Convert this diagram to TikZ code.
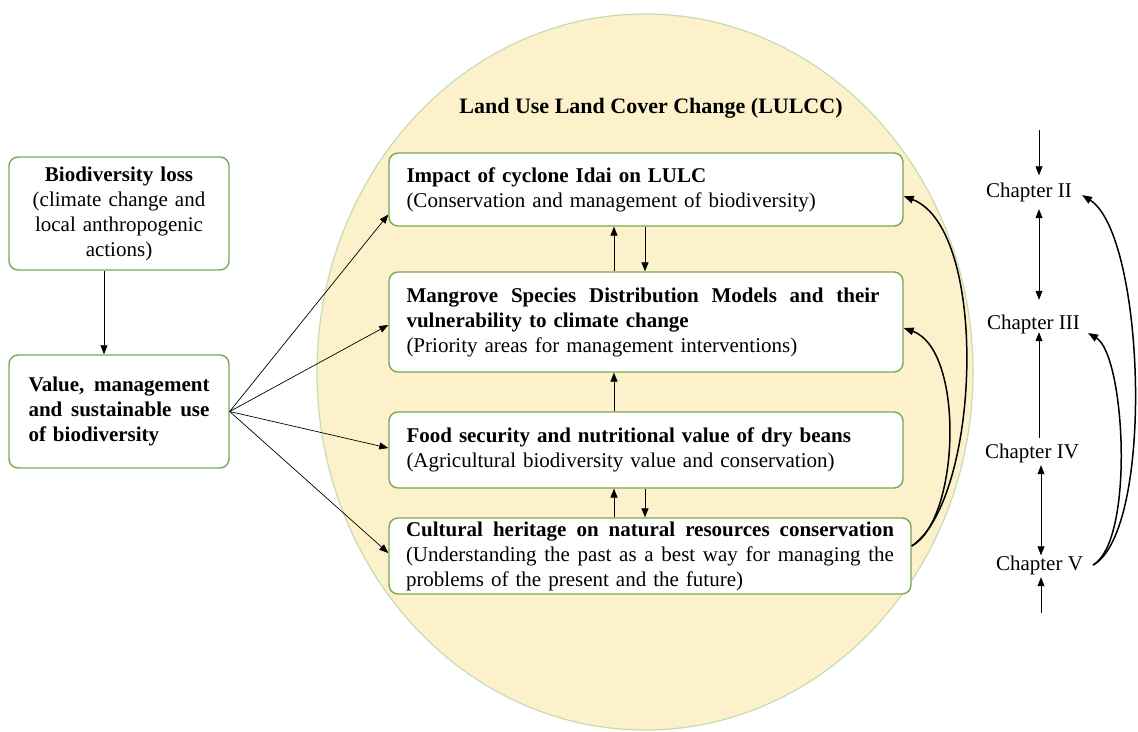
\documentclass[tikz,border=0pt]{standalone}
\usepackage{fontspec}
\setmainfont{Liberation Serif}
\usetikzlibrary{arrows.meta,calc}
\setlength{\parindent}{0pt}

\definecolor{boxgreen}{RGB}{122,168,84}
\definecolor{cream}{RGB}{252,241,203}
\definecolor{rimgreen}{RGB}{198,221,176}

% a line whose word spaces are stretched to a given width
\newcommand{\fullline}[2]{\hbox to #1{\spaceskip=0pt\xspaceskip=0pt #2}\par}

\tikzset{
  txt/.style={font=\fontsize{21}{25}\selectfont},
  card/.style={txt, draw=boxgreen, line width=1.4pt, fill=white,
    rounded corners=9pt, inner xsep=17.5pt, inner ysep=2pt, align=left},
  arr/.style={-{Triangle[length=9pt,width=7pt]}, line width=0.7pt},
  dbl/.style={{Triangle[length=9pt,width=7pt]}-{Triangle[length=9pt,width=7pt]}, line width=0.7pt},
  curvearr/.style={-{Triangle[length=10pt,width=7.5pt]}, line width=1.5pt},
  chap/.style={txt, inner sep=0pt},
}

\begin{document}
\begin{tikzpicture}[x=1pt,y=-1pt]
  \useasboundingbox (0,0) rectangle (1138,731);
  \fill[white] (0,0) rectangle (1138,731);

  % the LULCC field
  \draw[rimgreen, fill=cream, line width=1.2pt] (645,372) ellipse [x radius=328, y radius=358];
  \fill[white] (862,60) rectangle (885,88);
  \node[txt, font=\bfseries\fontsize{22}{25}\selectfont] (title) at (651,108)
    {Land Use Land Cover Change (LULCC)};

  % left column
  \node[card, align=center, text width=186pt, inner xsep=17pt, minimum height=113pt] (b1) at (119,213.5)
    {\textbf{Biodiversity loss}\\(climate change and\\local anthropogenic\\actions)};
  \node[card, text width=181pt, inner xsep=19.5pt, minimum height=113pt] (b2) at (119,411.5)
    {\bfseries\fullline{181pt}{Value, management}\fullline{181pt}{and sustainable use}of biodiversity};

  % study boxes
  \node[card, text width=479pt, minimum height=73pt] (c1) at (646,189.5)
    {\textbf{Impact of cyclone Idai on LULC}\\(Conservation and management of biodiversity)};
  \node[card, text width=479pt, minimum height=100pt] (c2) at (646,322)
    {\bfseries\fullline{473pt}{Mangrove Species Distribution Models and their}%
     vulnerability to climate change\\
     \mdseries(Priority areas for management interventions)};
  \node[card, text width=479pt, minimum height=76pt] (c3) at (646,450)
    {\textbf{Food security and nutritional value of dry beans}\\(Agricultural biodiversity value and conservation)};
  \node[card, text width=488pt, inner xsep=17pt, minimum height=76pt] (c4) at (650,556)
    {\fullline{488pt}{\bfseries Cultural heritage on natural resources conservation}%
     \fullline{488pt}{(Understanding the past as a best way for managing the}%
     problems of the present and the future)};

  % chapters
  \node[chap] (ch2) at (1029,192) {Chapter II};
  \node[chap] (ch3) at (1033.5,324) {Chapter III};
  \node[chap] (ch4) at (1032,453) {Chapter IV};
  \node[chap] (ch5) at (1039.5,565) {Chapter V};

  % left connectors
  \draw[arr] ($(b1.south)+(-15,0)$) -- ($(b2.north)+(-15,0)$);
  \draw[arr] (b2.east) -- ($(c1.west)+(0,25)$);
  \draw[arr] (b2.east) -- ($(c2.west)+(0,3)$);
  \draw[arr] (b2.east) -- ($(c3.west)+(0,-2)$);
  \draw[arr] (b2.east) -- ($(c4.west)+(0,-3)$);

  % links between study boxes
  \coordinate (up) at (614,0);
  \coordinate (dn) at (645,0);
  \draw[arr] (up |- c2.north) -- (up |- c1.south);
  \draw[arr] (dn |- c1.south) -- (dn |- c2.north);
  \draw[arr] (up |- c3.north) -- (up |- c2.south);
  \draw[arr] (up |- c4.north) -- (up |- c3.south);
  \draw[arr] (dn |- c3.south) -- (dn |- c4.north);
  \draw[curvearr] ($(c4.east)+(0,-10)$) .. controls (980,500) and (990,230) .. ($(c1.east)+(0,6.5)$);
  \draw[curvearr] ($(c4.east)+(0,-10)$) .. controls (960,520) and (965,350) .. ($(c2.east)+(0,6)$);

  % chapter sequence
  \coordinate (colA) at (1039,0);
  \coordinate (colB) at (1041,0);
  \coordinate (chin) at (1039,130);
  \coordinate (chout) at (1041,613);
  \draw[arr, shorten >=7pt] (chin) -- (colA |- ch2.north);
  \draw[dbl, shorten <=7.5pt, shorten >=14.5pt] (colA |- ch2.south) -- (colA |- ch3.north);
  \draw[arr, shorten <=5.5pt, shorten >=-1.5pt] (colA |- ch4.north) -- (colA |- ch3.south);
  \draw[dbl, shorten <=2.5pt] (colB |- ch4.south) -- (colB |- ch5.north);
  \draw[arr, shorten >=2.5pt] (chout) -- (colB |- ch5.south);
  \draw[curvearr] ($(ch5.east)+(10,0)$) .. controls (1155,530) and (1145,235) .. ($(ch2.east)+(10,3)$);
  \draw[curvearr] ($(ch5.east)+(10,0)$) .. controls (1135,540) and (1125,355) .. ($(ch3.east)+(8,9)$);
\end{tikzpicture}
\end{document}
